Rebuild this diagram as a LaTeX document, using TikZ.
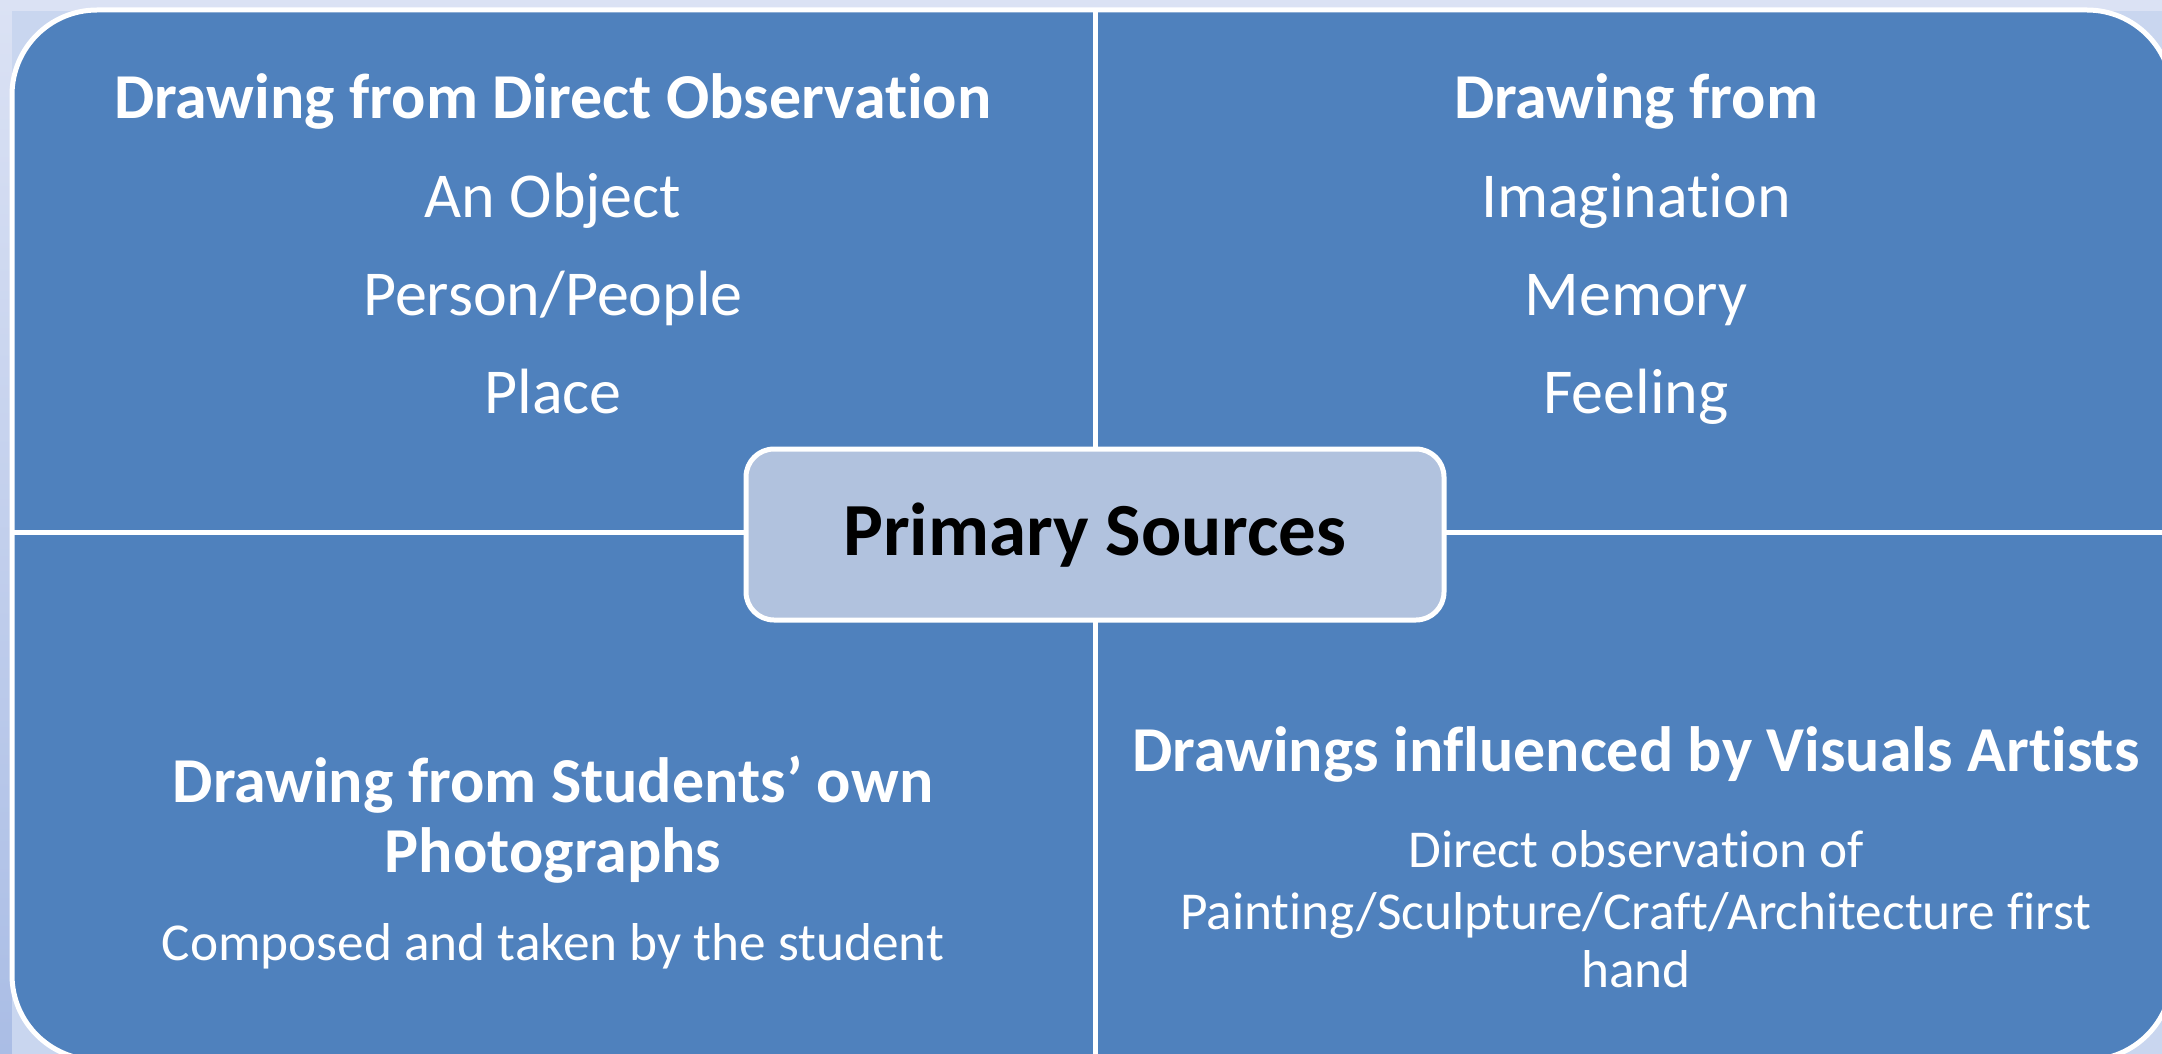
\documentclass[tikz,border=0pt]{standalone}
\usepackage{fontspec}
\setmainfont{Carlito}[Ligatures=NoCommon]
\definecolor{quadblue}{HTML}{4F81BD}
\definecolor{hubfill}{HTML}{B1C2DE}
\definecolor{framefill}{HTML}{C9D6EF}
\definecolor{pagetop}{HTML}{DBE2F4}
\definecolor{pagebottom}{HTML}{AABDE5}

\begin{document}
\begin{tikzpicture}
  [x=1pt,y=-1pt,line join=round,
   % Styles
   divider/.style={white,line width=5pt},
   quadrant/.style={fill=quadblue,draw=white,line width=5pt,rounded corners=85pt},
   heading/.style={white,font=\fontsize{64}{76}\selectfont\bfseries,anchor=base,inner sep=0pt},
   item/.style={white,font=\fontsize{64}{76}\selectfont,anchor=base,inner sep=0pt},
   detail/.style={white,font=\fontsize{53.3}{64}\selectfont,anchor=base,inner sep=0pt},
   hub/.style={draw=white,line width=5pt,fill=hubfill,rounded corners=28pt,
     minimum width=698pt,minimum height=171pt,inner sep=0pt,
     text height=56pt,text depth=15pt,
     font=\fontsize{75}{88}\selectfont\bfseries}]

  % Local definitions
  \def\midx{1095}
  \def\midy{532}
  \def\leftx{553}
  \def\rightx{1636}

  % Background
  \useasboundingbox (0,0) rectangle (2162,1054);
  \clip (0,0) rectangle (2162,1054);
  \shade[top color=pagetop,bottom color=pagebottom] (0,0) rectangle (2162,1054);
  \fill[framefill] (12,11) rectangle (2190,1080);

  % The quadrants
  \draw[quadrant] (12,10) rectangle (2172,1060);
  \coordinate (top) at (\midx,10);
  \coordinate (bottom) at (\midx,1060);
  \coordinate (left) at (12,\midy);
  \coordinate (right) at (2172,\midy);
  \draw[divider] (top) -- (bottom);
  \draw[divider] (left) -- (right);

  % Top left
  \node[heading] (tl-head) at (\leftx,119) {Drawing from Direct Observation};
  \foreach \n/\y/\txt in {1/217/An Object, 2/315/{Person/People}, 3/413/Place}
    \node[item] (tl-\n) at (\leftx,\y) {\txt};

  % Top right
  \node[heading] (tr-head) at (\rightx,119) {Drawing from};
  \foreach \n/\y/\txt in {1/217/Imagination, 2/315/Memory, 3/413/Feeling}
    \node[item] (tr-\n) at (\rightx,\y) {\txt};

  % Bottom left
  \node[heading] (bl-head) at (\leftx,802) {Drawing from Students’ own};
  \node[heading] (bl-head2) at (\leftx,872) {Photographs};
  \node[detail] (bl-1) at (\leftx,960) {Composed and taken by the student};

  % Bottom right
  \node[heading] (br-head) at (\rightx,771) {Drawings influenced by Visuals Artists};
  \foreach \n/\y/\txt in {1/867/Direct observation of,
      2/929/{Painting/Sculpture/Craft/Architecture first}, 3/987/hand}
    \node[detail] (br-\n) at (\rightx,\y) {\txt};

  % Centre
  \node[hub] (hub) at (\midx,534.5) {Primary Sources};
\end{tikzpicture}
\end{document}
